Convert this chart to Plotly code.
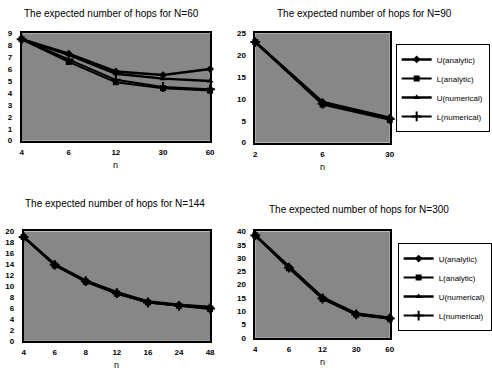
import plotly.graph_objects as go

# ---------------- data ----------------
series_names = ["U(analytic)", "L(analytic)", "U(numerical)", "L(numerical)"]

n60 = ["4", "6", "12", "30", "60"]
n60_U_analytic = [8.5, 7.3, 5.8, 5.5, 6.0]
n60_L_analytic = [8.5, 6.6, 4.9, 4.4, 4.2]
n60_U_numerical = [8.5, 7.2, 5.6, 5.2, 5.0]
n60_L_numerical = [8.5, 6.8, 5.1, 4.5, 4.3]

n90 = ["2", "6", "30"]
n90_U_analytic = [23.0, 9.3, 5.7]
n90_L_analytic = [23.0, 8.7, 5.2]
n90_U_numerical = [23.0, 9.1, 5.6]
n90_L_numerical = [23.0, 8.9, 5.4]

n144 = ["4", "6", "8", "12", "16", "24", "48"]
n144_U_analytic = [19.0, 14.0, 11.0, 8.9, 7.2, 6.6, 6.2]
n144_L_analytic = [19.0, 13.8, 10.8, 8.6, 7.0, 6.4, 5.8]
n144_U_numerical = [19.0, 13.9, 10.9, 8.8, 7.1, 6.5, 6.1]
n144_L_numerical = [19.0, 13.9, 10.9, 8.7, 7.0, 6.4, 5.9]

n300 = ["4", "6", "12", "30", "60"]
n300_U_analytic = [38.5, 26.8, 15.2, 9.2, 7.6]
n300_L_analytic = [38.5, 26.2, 14.6, 8.7, 7.2]
n300_U_numerical = [38.5, 26.6, 15.0, 9.0, 7.5]
n300_L_numerical = [38.5, 26.4, 14.8, 8.8, 7.3]

titles = ["The expected number of hops for N=60",
          "The expected number of hops for N=90",
          "The expected number of hops for N=144",
          "The expected number of hops for N=300"]

# ---------------- styling ----------------
W, H = 492, 378
FONT = "Liberation Sans"
BG = "#878787"
markers = [dict(symbol="diamond", size=6, color="black"),
           dict(symbol="square", size=6, color="black"),
           dict(symbol="triangle-up", size=6, color="black"),
           dict(symbol="cross-thin", size=7, color="black", line=dict(color="black", width=2))]
widths = [2.5, 2.0, 2.5, 2.0]

def px_x(x):
    return x / W

def px_y(y):
    return 1 - y / H

panels = [
    dict(cats=n60, ys=[n60_U_analytic, n60_L_analytic, n60_U_numerical, n60_L_numerical],
         dom_x=(20, 212), dom_y=(30, 140), yr=[0, 9], dt=1, legend=None,
         title_xy=(112, 10)),
    dict(cats=n90, ys=[n90_U_analytic, n90_L_analytic, n90_U_numerical, n90_L_numerical],
         dom_x=(258, 395), dom_y=(30, 142), yr=[0, 25], dt=5, legend="legend",
         title_xy=(369, 10)),
    dict(cats=n144, ys=[n144_U_analytic, n144_L_analytic, n144_U_numerical, n144_L_numerical],
         dom_x=(22, 212), dom_y=(233, 345), yr=[0, 20], dt=2, legend=None,
         title_xy=(115, 204)),
    dict(cats=n300, ys=[n300_U_analytic, n300_L_analytic, n300_U_numerical, n300_L_numerical],
         dom_x=(258, 395), dom_y=(233, 342), yr=[0, 40], dt=5, legend="legend2",
         title_xy=(364, 210)),
]

fig = go.Figure()
layout = {}
annotations = []
tickfont = dict(family=FONT, size=8, color="black", weight="bold")
for i, p in enumerate(panels):
    k = "" if i == 0 else str(i + 1)
    for j, name in enumerate(series_names):
        tr = go.Scatter(
            x=p["cats"], y=p["ys"][j], name=name, mode="lines+markers",
            line=dict(color="black", width=widths[j]), marker=markers[j],
            xaxis="x" + k, yaxis="y" + k, cliponaxis=False,
            showlegend=p["legend"] is not None,
        )
        if p["legend"] is not None:
            tr.legend = p["legend"]
        fig.add_trace(tr)
    x0, x1 = p["dom_x"]
    y0, y1 = p["dom_y"]
    layout["xaxis" + k] = dict(
        domain=[px_x(x0), px_x(x1)], anchor="y" + k, type="category",
        range=[0, len(p["cats"]) - 1], showgrid=False, zeroline=False,
        showline=True, linecolor="black", linewidth=1.5, mirror=True,
        ticks="", tickfont=tickfont, ticklabelstandoff=3,
    )
    layout["yaxis" + k] = dict(
        domain=[px_y(y1), px_y(y0)], anchor="x" + k, range=p["yr"], dtick=p["dt"],
        showgrid=False, zeroline=False, showline=True, linecolor="black",
        linewidth=1.5, mirror=True, ticks="", tickfont=tickfont,
        ticklabelstandoff=6,
    )
    tx, ty = p["title_xy"]
    annotations.append(dict(text=titles[i], x=px_x(tx), y=px_y(ty), xref="paper", yref="paper",
                            showarrow=False, xanchor="center", yanchor="middle",
                            font=dict(family=FONT, size=10, color="black")))
    cx = (x0 + x1) / 2
    annotations.append(dict(text="n", x=px_x(cx), y=px_y(y1 + 25), xref="paper", yref="paper",
                            showarrow=False, xanchor="center", yanchor="middle",
                            font=dict(family=FONT, size=9, color="black")))

legend_style = dict(font=dict(family=FONT, size=8, color="black"), bgcolor="white",
                    bordercolor="black", borderwidth=1, xanchor="left", yanchor="middle",
                    tracegroupgap=0, itemwidth=30)

fig.update_layout(
    width=W, height=H, margin=dict(l=0, r=0, t=0, b=0),
    paper_bgcolor="white", plot_bgcolor=BG,
    annotations=annotations,
    legend=dict(x=px_x(401), y=px_y(86), **legend_style),
    legend2=dict(x=px_x(403), y=px_y(290), **legend_style),
    **layout,
)

fig.write_html("out.html", config={"displayModeBar": False},
               post_script="document.body.style.margin='0px';")
